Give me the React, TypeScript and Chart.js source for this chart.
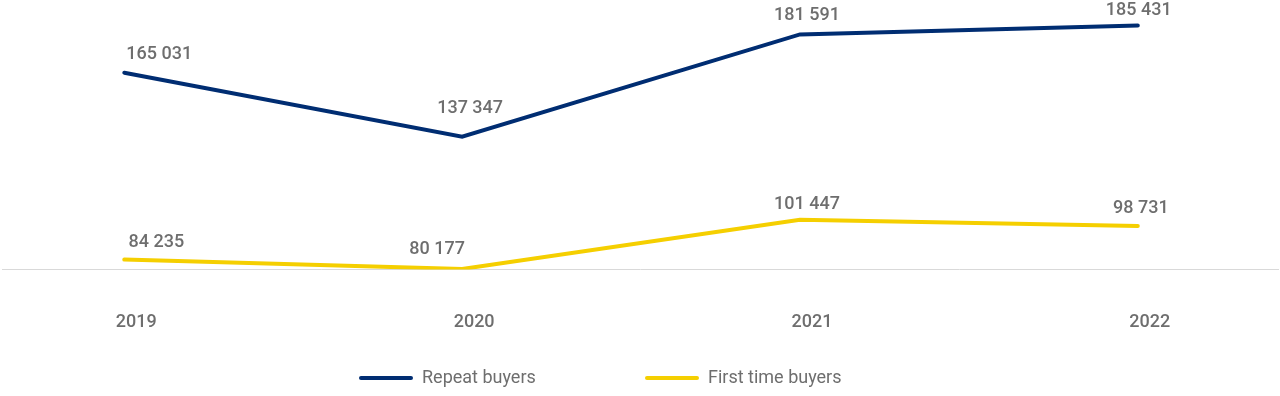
import React, { useEffect, useRef } from "react";
import { Chart, registerables } from "chart.js";

Chart.register(...registerables);

const categories = ["2019", "2020", "2021", "2022"];
const repeatBuyers = [165031, 137347, 181591, 185431];
const firstTimeBuyers = [84235, 80177, 101447, 98731];
const seriesNames = ["Repeat buyers", "First time buyers"];

const NAVY = "#002d72";
const YELLOW = "#f5cf00";
const TEXT = "#6e6e6e";
const FONT = "Roboto, 'Noto Sans', sans-serif";

// label nudges (center of label relative to the point)
const labelNudges = [
  [[35, -18], [8, -28], [7, -19], [1, -15]],
  [[32, -17], [-25, -19], [7, -15], [3, -18]],
];

const fmt = (v: number) => String(v).replace(/\B(?=(\d{3})+(?!\d))/g, " ");

const labelsPlugin = {
  id: "valueLabels",
  afterDatasetsDraw(chart: any) {
    const ctx = chart.ctx;
    ctx.save();
    ctx.font = `500 18px ${FONT}`;
    ctx.fillStyle = TEXT;
    ctx.textAlign = "center";
    ctx.textBaseline = "middle";
    chart.data.datasets.forEach((ds: any, di: number) => {
      const meta = chart.getDatasetMeta(di);
      meta.data.forEach((pt: any, i: number) => {
        const v = ds.data[i].y;
        const [dx, dy] = labelNudges[di][i];
        ctx.fillText(fmt(v), pt.x + dx, pt.y + dy);
      });
    });
    ctx.restore();
  },
};

const legendPlugin = {
  id: "customLegend",
  afterDraw(chart: any) {
    const ctx = chart.ctx;
    ctx.save();
    ctx.font = `400 18px ${FONT}`;
    ctx.textBaseline = "middle";
    ctx.textAlign = "left";
    const y = 378;
    const starts = [360, 646];
    chart.data.datasets.forEach((ds: any, di: number) => {
      const x = starts[di];
      ctx.strokeStyle = ds.borderColor;
      ctx.lineWidth = 4;
      ctx.lineCap = "round";
      ctx.beginPath();
      ctx.moveTo(x + 1, y);
      ctx.lineTo(x + 51, y);
      ctx.stroke();
      ctx.fillStyle = TEXT;
      ctx.fillText(ds.label, x + 62, y);
    });
    ctx.restore();
  },
};

export default function App() {
  const ref = useRef<HTMLCanvasElement | null>(null);

  useEffect(() => {
    if (!ref.current) return;
    const chart = new Chart(ref.current, {
      type: "line",
      data: {
        datasets: [
          {
            label: seriesNames[0],
            data: repeatBuyers.map((y, i) => ({ x: i, y })),
            borderColor: NAVY,
            backgroundColor: NAVY,
            borderWidth: 4,
            pointRadius: 0,
            tension: 0,
            borderCapStyle: "round",
            borderJoinStyle: "miter",
          },
          {
            label: seriesNames[1],
            data: firstTimeBuyers.map((y, i) => ({ x: i, y })),
            borderColor: YELLOW,
            backgroundColor: YELLOW,
            borderWidth: 4,
            pointRadius: 0,
            tension: 0,
            borderCapStyle: "round",
            borderJoinStyle: "miter",
          },
        ],
      },
      options: {
        animation: false,
        responsive: false,
        maintainAspectRatio: false,
        layout: { padding: { top: 15, left: 2, right: 2, bottom: 21 } },
        plugins: {
          legend: { display: false },
          tooltip: { enabled: false },
        },
        scales: {
          x: {
            type: "linear",
            min: -0.362,
            max: 3.415,
            grid: { display: false, drawTicks: false },
            border: { display: true, color: "#d9d9d9", width: 1 },
            afterBuildTicks: (axis: any) => {
              axis.ticks = categories.map((_, i) => ({ value: i }));
            },
            ticks: {
              padding: 42,
              labelOffset: 12,
              color: TEXT,
              font: { family: FONT, size: 18, weight: 500 },
              callback: (v: any) => categories[Math.round(Number(v))] ?? "",
            },
          },
          y: {
            display: false,
            min: 80000,
            max: 190000,
          },
        },
      },
      plugins: [labelsPlugin, legendPlugin],
    });
    return () => chart.destroy();
  }, []);

  return (
    <div style={{ position: "absolute", left: 0, top: 0, width: 1280, height: 396, background: "#fff" }}>
      <canvas ref={ref} width={1280} height={396} style={{ display: "block", width: 1280, height: 396 }} />
    </div>
  );
}
